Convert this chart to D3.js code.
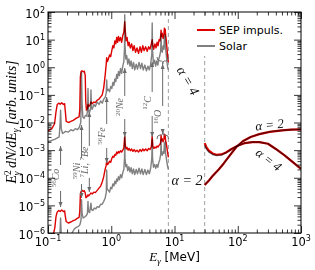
<!DOCTYPE html>
<html>
<head>
<meta charset="utf-8">
<script src="https://cdn.jsdelivr.net/npm/d3@7"></script>
<style>
  body { margin: 0; background: #fff; }
  svg { display: block; }
</style>
</head>
<body>
<svg id="chart" width="315" height="270"></svg>
<script>
// ---- data: [E_gamma (MeV), E^2 dN/dE (arb. units)] ----
// nuclear de-excitation lines, alpha = 4 normalisation (upper group)
const sepA4 = [
  [0.1, 5e-3], [0.115, 6e-3], [0.127, 9e-3], [0.134, 2.5e-2], [0.14, 4.5e-2], [0.148, 5e-2],
  [0.156, 4.6e-2], [0.165, 5.2e-2], [0.175, 4.5e-2], [0.183, 4.8e-2], [0.188, 2.5e-2], [0.194, 1.1e-2],
  [0.21, 1e-2], [0.23, 1.1e-2], [0.25, 1.2e-2], [0.27, 1.35e-2], [0.29, 1.5e-2], [0.31, 1.6e-2],
  [0.318, 3e-2], [0.325, 0.45], [0.333, 0.7], [0.345, 0.75], [0.36, 0.68], [0.375, 0.72], [0.388, 0.5],
  [0.395, 0.06], [0.405, 2.8e-2], [0.42, 3.2e-2], [0.429, 4.5e-2], [0.44, 3.8e-2], [0.46, 4.2e-2],
  [0.478, 5.5e-2], [0.5, 4.8e-2], [0.53, 5.5e-2], [0.56, 5.2e-2], [0.6, 6.5e-2], [0.64, 7e-2],
  [0.68, 8.5e-2], [0.72, 0.1], [0.76, 0.18], [0.8, 0.5], [0.83, 1.2], [0.847, 2.2], [0.87, 1.6],
  [0.9, 2.0], [0.94, 2.8], [0.98, 2.4], [1.02, 4], [1.06, 6], [1.1, 5], [1.14, 9], [1.18, 7],
  [1.22, 12], [1.26, 8], [1.3, 13], [1.35, 9], [1.4, 12], [1.46, 8], [1.52, 14], [1.58, 18],
  [1.634, 45], [1.67, 20], [1.72, 9], [1.78, 12], [1.85, 6], [1.92, 8], [2.0, 5], [2.1, 7], [2.2, 4],
  [2.3, 6], [2.42, 3.5], [2.55, 5], [2.7, 3.2], [2.85, 5.5], [3.0, 3.5], [3.15, 6], [3.3, 4],
  [3.5, 5.5], [3.7, 3.8], [3.9, 5.5], [4.1, 4.5], [4.3, 7], [4.44, 10], [4.55, 6], [4.7, 4.5],
  [4.9, 7], [5.1, 5], [5.3, 8], [5.5, 6], [5.7, 10], [5.9, 9], [6.05, 14], [6.13, 22], [6.25, 13],
  [6.4, 17], [6.6, 11], [6.8, 15], [6.92, 26], [7.02, 16], [7.12, 24], [7.25, 14], [7.4, 10],
  [7.6, 5], [7.8, 2.5], [8.0, 1.5]
];
const solarA4 = [
  [0.1, 2e-3], [0.13, 2.5e-3], [0.15, 3e-3], [0.155, 8e-3], [0.158, 2.8e-2], [0.162, 6e-3],
  [0.17, 4e-3], [0.19, 4.8e-3], [0.21, 4.5e-3], [0.23, 5.5e-3], [0.25, 5e-3], [0.27, 6e-3],
  [0.29, 5.5e-3], [0.31, 6.5e-3], [0.33, 1e-2], [0.339, 0.65], [0.346, 0.05], [0.355, 1.6e-2],
  [0.37, 1.4e-2], [0.39, 1.8e-2], [0.41, 1.7e-2], [0.423, 3e-2], [0.429, 0.17], [0.436, 3e-2],
  [0.45, 2.2e-2], [0.47, 3e-2], [0.478, 0.15], [0.486, 3.5e-2], [0.5, 3e-2], [0.53, 4.5e-2],
  [0.56, 3.8e-2], [0.6, 5.5e-2], [0.64, 4.5e-2], [0.68, 6e-2], [0.72, 5e-2], [0.76, 7e-2],
  [0.8, 8e-2], [0.835, 0.12], [0.847, 0.35], [0.86, 0.14], [0.9, 0.16], [0.94, 0.13], [0.98, 0.2],
  [1.02, 0.17], [1.06, 0.28], [1.1, 0.22], [1.14, 0.38], [1.18, 0.3], [1.22, 0.55], [1.26, 0.4],
  [1.3, 0.7], [1.35, 0.5], [1.4, 0.9], [1.46, 0.6], [1.52, 1.1], [1.58, 1.6], [1.62, 5], [1.634, 80],
  [1.65, 6], [1.7, 2], [1.76, 2.6], [1.82, 1.3], [1.9, 2], [1.98, 1.1], [2.06, 1.7], [2.15, 0.9],
  [2.25, 1.5], [2.35, 0.8], [2.48, 1.3], [2.6, 0.85], [2.75, 1.5], [2.9, 0.9], [3.05, 1.4],
  [3.2, 0.8], [3.4, 1.2], [3.6, 0.75], [3.8, 1.1], [4.0, 0.8], [4.2, 1.3], [4.38, 3], [4.44, 40],
  [4.5, 4], [4.65, 1.3], [4.85, 1.8], [5.05, 1.1], [5.25, 1.7], [5.45, 1.2], [5.65, 2], [5.85, 2.6],
  [6.05, 4], [6.13, 16], [6.2, 5], [6.4, 3.5], [6.6, 6], [6.8, 4.5], [6.92, 13], [7.0, 6],
  [7.12, 15], [7.2, 5], [7.4, 3], [7.6, 1.5], [7.8, 1], [8.0, 0.8]
];
// alpha = 2 normalisation (lower group)
const sepA2 = [
  [0.12, 8e-7], [0.128, 1.5e-6], [0.134, 4e-6], [0.14, 5.8e-6], [0.148, 6.5e-6], [0.156, 6e-6],
  [0.165, 6.8e-6], [0.175, 6e-6], [0.183, 6.3e-6], [0.188, 4e-6], [0.194, 2.6e-6], [0.21, 2.3e-6],
  [0.23, 2.5e-6], [0.25, 2.8e-6], [0.27, 3e-6], [0.29, 3.4e-6], [0.31, 3.7e-6], [0.318, 6e-6],
  [0.325, 2.5e-5], [0.333, 3.2e-5], [0.345, 3.5e-5], [0.36, 3.2e-5], [0.375, 3.4e-5], [0.388, 2.8e-5],
  [0.398, 1.9e-5], [0.41, 2e-5], [0.429, 2.4e-5], [0.44, 2.2e-5], [0.46, 2.5e-5], [0.478, 2.8e-5],
  [0.5, 2.6e-5], [0.53, 3e-5], [0.56, 2.9e-5], [0.6, 3.5e-5], [0.64, 4.2e-5], [0.68, 5e-5],
  [0.72, 7e-5], [0.76, 1.1e-4], [0.8, 2e-4], [0.83, 2.8e-4], [0.847, 4e-4], [0.87, 3e-4],
  [0.9, 3.2e-4], [0.94, 4e-4], [0.98, 3.6e-4], [1.02, 5e-4], [1.06, 6e-4], [1.1, 5.5e-4],
  [1.14, 7e-4], [1.18, 6.5e-4], [1.22, 8.5e-4], [1.26, 7.5e-4], [1.3, 9e-4], [1.35, 8e-4],
  [1.4, 9.5e-4], [1.46, 8.5e-4], [1.52, 1e-3], [1.58, 1.2e-3], [1.634, 3.2e-3], [1.67, 1.5e-3],
  [1.72, 1.1e-3], [1.78, 1.25e-3], [1.85, 1e-3], [1.92, 1.15e-3], [2.0, 9.5e-4], [2.1, 1.1e-3],
  [2.2, 9e-4], [2.3, 1.05e-3], [2.42, 8.8e-4], [2.55, 1e-3], [2.7, 8.5e-4], [2.85, 1.05e-3],
  [3.0, 9e-4], [3.15, 1.1e-3], [3.3, 9.5e-4], [3.5, 1.1e-3], [3.7, 9.5e-4], [3.9, 1.15e-3],
  [4.1, 1.05e-3], [4.3, 1.3e-3], [4.44, 3.2e-3], [4.55, 1.4e-3], [4.7, 1.15e-3], [4.9, 1.3e-3],
  [5.1, 1.2e-3], [5.3, 1.4e-3], [5.5, 1.3e-3], [5.7, 1.5e-3], [5.9, 1.6e-3], [6.05, 2e-3],
  [6.13, 3.5e-3], [6.25, 2.2e-3], [6.4, 2.6e-3], [6.6, 2e-3], [6.8, 2.5e-3], [6.92, 3.8e-3],
  [7.02, 2.6e-3], [7.12, 3.5e-3], [7.25, 2.2e-3], [7.4, 1.8e-3], [7.6, 1.2e-3], [7.8, 8e-4],
  [8.0, 5.5e-4]
];
const solarA2 = [
  [0.152, 5e-7], [0.156, 1.5e-6], [0.158, 3.5e-6], [0.161, 1.2e-6], [0.166, 5e-7], [0.22, 6e-7],
  [0.24, 1e-6], [0.26, 1.4e-6], [0.28, 1.6e-6], [0.3, 1.7e-6], [0.32, 2e-6], [0.333, 3e-6],
  [0.339, 1.6e-5], [0.346, 5e-6], [0.36, 3.5e-6], [0.38, 3.8e-6], [0.4, 4.2e-6], [0.42, 5e-6],
  [0.429, 1.4e-5], [0.436, 6e-6], [0.455, 5.5e-6], [0.478, 1.2e-5], [0.488, 7e-6], [0.51, 6.5e-6],
  [0.54, 8e-6], [0.57, 7.5e-6], [0.6, 9e-6], [0.64, 8.5e-6], [0.68, 1.1e-5], [0.72, 1.1e-5],
  [0.76, 1.4e-5], [0.8, 1.8e-5], [0.835, 3e-5], [0.847, 1.9e-4], [0.86, 4e-5], [0.9, 3.5e-5],
  [0.94, 3e-5], [0.98, 4.5e-5], [1.02, 4e-5], [1.06, 6e-5], [1.1, 5e-5], [1.14, 7.5e-5],
  [1.18, 6e-5], [1.22, 9e-5], [1.26, 7.5e-5], [1.3, 1.1e-4], [1.35, 8.5e-5], [1.4, 1.3e-4],
  [1.46, 1e-4], [1.52, 1.5e-4], [1.58, 2e-4], [1.62, 5e-4], [1.634, 3e-3], [1.65, 5e-4],
  [1.7, 2.5e-4], [1.76, 3e-4], [1.82, 1.8e-4], [1.9, 2.5e-4], [1.98, 1.6e-4], [2.06, 2.3e-4],
  [2.15, 1.4e-4], [2.25, 2.1e-4], [2.35, 1.3e-4], [2.48, 2e-4], [2.6, 1.4e-4], [2.75, 2.2e-4],
  [2.9, 1.4e-4], [3.05, 2.1e-4], [3.2, 1.3e-4], [3.4, 2e-4], [3.6, 1.3e-4], [3.8, 1.9e-4],
  [4.0, 1.4e-4], [4.2, 2.2e-4], [4.38, 5e-4], [4.44, 2.5e-3], [4.5, 5e-4], [4.65, 2.4e-4],
  [4.85, 3e-4], [5.05, 2.2e-4], [5.25, 3e-4], [5.45, 2.4e-4], [5.65, 3.6e-4], [5.85, 4.5e-4],
  [6.05, 7e-4], [6.13, 2.5e-3], [6.2, 8e-4], [6.4, 6.5e-4], [6.6, 9e-4], [6.8, 7.5e-4],
  [6.92, 1.8e-3], [7.0, 9e-4], [7.12, 2e-3], [7.2, 8e-4], [7.4, 5.5e-4], [7.6, 3.5e-4],
  [7.8, 2.5e-4], [8.0, 2e-4]
];
// pion-decay continuum
const sepPionA4 = [
  [30, 1.8e-3], [32, 1.25e-3], [35, 9.5e-4], [40, 7.6e-4], [46, 6.8e-4], [55, 7e-4], [65, 8.2e-4],
  [80, 1.1e-3], [100, 1.45e-3], [130, 1.8e-3], [170, 1.95e-3], [220, 1.95e-3], [300, 1.7e-3],
  [400, 1.1e-3], [550, 6.5e-4], [750, 3.6e-4], [1000, 2.1e-4]
];
const solarPionA4 = [
  [30, 1.5e-3], [32, 1.1e-3], [35, 8.5e-4], [40, 7e-4], [46, 6.4e-4], [55, 6.7e-4], [65, 8e-4],
  [80, 1.1e-3], [100, 1.45e-3], [130, 1.8e-3], [170, 1.95e-3], [220, 1.95e-3], [300, 1.7e-3],
  [400, 1.1e-3], [550, 6.5e-4], [750, 3.6e-4], [1000, 2.1e-4]
];
const sepPionA2 = [
  [30, 5.5e-5], [35, 8e-5], [40, 1.15e-4], [50, 2e-4], [60, 3.3e-4], [75, 6.5e-4], [95, 1.3e-3],
  [120, 2.1e-3], [160, 3e-3], [220, 3.8e-3], [320, 4.6e-3], [500, 5.2e-3], [700, 5.5e-3], [1000, 5.6e-3]
];
const solarPionA2 = [
  [30, 5.5e-5], [35, 8e-5], [40, 1.15e-4], [50, 2e-4], [60, 3.3e-4], [75, 6.5e-4], [95, 1.3e-3],
  [120, 2.1e-3], [160, 3e-3], [220, 3.8e-3], [320, 4.6e-3], [500, 5.2e-3], [700, 5.5e-3], [1000, 5.6e-3]
];

const dashedE = [8, 30];
const xTickExp = [-1, 0, 1, 2, 3];
const yTickExp = [-6, -5, -4, -3, -2, -1, 0, 1, 2];
const legendNames = ['SEP impuls.', 'Solar'];
// line labels: superscript / symbol pieces alternate
const lineLabels = [['56', 'Co'], ['59', 'Ni'], ['7', 'Li, ', '7', 'Be'], ['56', 'Fe'], ['20', 'Ne'], ['12', 'C'], ['16', 'O']];
const lineE = [0.158, 0.339, 0.45, 0.847, 1.634, 4.438, 6.5];

// ---- drawing ----
const RED = '#dd0000', GRAY = '#808080', ANN = '#6a6a6a';
const MATH = "'Liberation Serif','DejaVu Serif',serif";
const SANS = "'DejaVu Sans',sans-serif";

const svg = d3.select('#chart');
svg.append('rect').attr('width', 315).attr('height', 270).attr('fill', '#fff');

const x = d3.scaleLog().domain([0.1, 1000]).range([48, 301]);
const y = d3.scaleLog().domain([1e-6, 1e2]).range([233, 12]);

const defs = svg.append('defs');
defs.append('clipPath').attr('id', 'plot')
  .append('rect').attr('x', 48).attr('y', 12).attr('width', 253).attr('height', 221);
defs.append('marker').attr('id', 'head')
  .attr('viewBox', '0 0 10 10').attr('refX', 10).attr('refY', 5)
  .attr('markerWidth', 5).attr('markerHeight', 5).attr('markerUnits', 'userSpaceOnUse')
  .attr('orient', 'auto')
  .append('path').attr('d', 'M0,1 L10,5 L0,9 z').attr('fill', ANN);

// dashed separators
svg.selectAll('.vline').data(dashedE).enter().append('line')
  .attr('x1', d => x(d)).attr('x2', d => x(d)).attr('y1', 12).attr('y2', 233)
  .attr('stroke', '#a0a0a0').attr('stroke-width', 1).attr('stroke-dasharray', '4,3');

// spectra
const line = d3.line().x(d => x(d[0])).y(d => y(d[1]));
const curves = [
  { d: sepA4, c: RED, w: 1.4 }, { d: solarA4, c: GRAY, w: 1.4 },
  { d: sepA2, c: RED, w: 1.4 }, { d: solarA2, c: GRAY, w: 1.4 },
  { d: sepPionA4, c: RED, w: 2.2 }, { d: solarPionA4, c: GRAY, w: 1.6 },
  { d: sepPionA2, c: RED, w: 2.2 }, { d: solarPionA2, c: GRAY, w: 1.6 }
];
const cg = svg.append('g').attr('clip-path', 'url(#plot)');
cg.selectAll('path').data(curves).enter().append('path')
  .attr('d', d => line(d.d)).attr('fill', 'none')
  .attr('stroke', d => d.c).attr('stroke-width', d => d.w)
  .attr('stroke-linejoin', 'round')
  .style('mix-blend-mode', 'multiply');

// line annotations
const annLayout = [
  { ty: 178, up: [165, 146], dn: [191, 207] },
  { ty: 171, up: [158, 125], dn: [184, 198] },
  { ty: 162, up: [146, 112], dn: [178, 192] },
  { ty: 136, up: [124, 97], dn: [148, 163] },
  { ty: 107, up: [96, 68], dn: [119, 137] },
  { ty: 103, up: [92, 62], dn: [116, 137] },
  { ty: 117, up: [106, 64], dn: [129, 134] }
];
const ann = svg.append('g');
lineE.forEach((e, i) => {
  const lx = x(e), L = annLayout[i];
  const t = ann.append('text')
    .attr('transform', `translate(${lx - 1.5},${L.ty}) rotate(-90)`)
    .attr('text-anchor', 'middle').attr('fill', ANN)
    .attr('font-family', MATH);
  lineLabels[i].forEach((p, k) => {
    const sup = k % 2 === 0;
    t.append('tspan').text(p)
      .attr('font-size', sup ? 7 : 10)
      .attr('font-style', sup ? 'normal' : 'italic')
      .attr('dy', sup ? -3.5 : 3.5);
  });
  [L.up, L.dn].forEach(a => {
    ann.append('line').attr('x1', lx).attr('x2', lx).attr('y1', a[0]).attr('y2', a[1])
      .attr('stroke', ANN).attr('stroke-width', 1).attr('marker-end', 'url(#head)');
  });
});
// braces for the 16O triplet
ann.append('path').attr('d', 'M157,57 q0,4 3,4 h1.5 q1.3,0 1.3,3 q0,-3 1.3,-3 h1.5 q3,0 3,-4')
  .attr('fill', 'none').attr('stroke', ANN).attr('stroke-width', 1);
ann.append('path').attr('d', 'M157,139 q0,-4 3,-4 h1.5 q1.3,0 1.3,-3 q0,3 1.3,3 h1.5 q3,0 3,4')
  .attr('fill', 'none').attr('stroke', ANN).attr('stroke-width', 1);

// alpha labels
const alphaLabels = [
  { t: 'α = 4', tr: 'translate(184,83) rotate(60)', s: 14 },
  { t: 'α = 2', tr: 'translate(187,185)', s: 14 },
  { t: 'α = 2', tr: 'translate(270,129) rotate(-6)', s: 13 },
  { t: 'α = 4', tr: 'translate(266,163) rotate(38)', s: 13 }
];
svg.selectAll('.alab').data(alphaLabels).enter().append('text')
  .attr('transform', d => d.tr).attr('text-anchor', 'middle')
  .attr('font-family', MATH).attr('font-style', 'italic').attr('font-size', d => d.s)
  .attr('fill', '#111').text(d => d.t);

// legend
const leg = svg.append('g');
leg.append('rect').attr('x', 193).attr('y', 19).attr('width', 104).attr('height', 37).attr('fill', '#fff');
legendNames.forEach((n, i) => {
  const ly = 30 + i * 16;
  leg.append('line').attr('x1', 197).attr('x2', 215).attr('y1', ly).attr('y2', ly)
    .attr('stroke', i === 0 ? RED : GRAY).attr('stroke-width', 2);
  leg.append('text').attr('x', 219).attr('y', ly + 4).attr('font-family', SANS)
    .attr('font-size', 11).attr('fill', '#000').text(n);
});

// axes: ticks inward on all four sides
const xMajor = xTickExp.map(k => Math.pow(10, k));
const yMajor = yTickExp.map(k => Math.pow(10, k));
const isPow = v => Math.abs(Math.log10(v) - Math.round(Math.log10(v))) < 1e-9;
const xMinor = x.ticks().filter(v => !isPow(v));
const yMinor = y.ticks().filter(v => !isPow(v));

function ticks(axis, vals, size, tr) {
  const g = svg.append('g').attr('transform', tr)
    .call(axis.tickValues(vals).tickSize(size).tickSizeOuter(0).tickFormat(''));
  g.select('.domain').remove();
  g.selectAll('line').attr('stroke', '#000').attr('stroke-width', 0.8);
}
ticks(d3.axisBottom(x), xMajor, -7, 'translate(0,233)');
ticks(d3.axisBottom(x), xMinor, -3.5, 'translate(0,233)');
ticks(d3.axisTop(x), xMajor, -7, 'translate(0,12)');
ticks(d3.axisTop(x), xMinor, -3.5, 'translate(0,12)');
ticks(d3.axisLeft(y), yMajor, -7, 'translate(48,0)');
ticks(d3.axisLeft(y), yMinor, -3.5, 'translate(48,0)');
ticks(d3.axisRight(y), yMajor, -7, 'translate(301,0)');
ticks(d3.axisRight(y), yMinor, -3.5, 'translate(301,0)');

svg.append('rect').attr('x', 48).attr('y', 12).attr('width', 253).attr('height', 221)
  .attr('fill', 'none').attr('stroke', '#000').attr('stroke-width', 1);

// tick labels
const fmtExp = k => (k < 0 ? '\u2212' + (-k) : String(k));
xTickExp.forEach(k => {
  const t = svg.append('text').attr('x', x(Math.pow(10, k))).attr('y', 246)
    .attr('text-anchor', 'middle').attr('font-family', SANS).attr('font-size', 11.5);
  t.append('tspan').text('10');
  t.append('tspan').text(fmtExp(k)).attr('font-size', 8).attr('dy', -5);
});
yTickExp.forEach(k => {
  const t = svg.append('text').attr('x', 45).attr('y', y(Math.pow(10, k)) + 5.5)
    .attr('text-anchor', 'end').attr('font-family', SANS).attr('font-size', 11.5);
  t.append('tspan').text('10');
  t.append('tspan').text(fmtExp(k)).attr('font-size', 8).attr('dy', -5);
});

// axis titles
const xt = svg.append('text').attr('x', 174.5).attr('y', 261).attr('text-anchor', 'middle').attr('font-size', 12);
xt.append('tspan').text('E').attr('font-family', MATH).attr('font-style', 'italic').attr('font-size', 13);
xt.append('tspan').text('γ').attr('font-family', MATH).attr('font-style', 'italic').attr('font-size', 9).attr('dy', 3);
xt.append('tspan').text(' [MeV]').attr('font-family', SANS).attr('dy', -3);

const yt = svg.append('text').attr('transform', 'translate(16,122) rotate(-90)')
  .attr('text-anchor', 'middle').attr('font-family', MATH).attr('font-style', 'italic').attr('font-size', 14);
yt.append('tspan').text('E');
yt.append('tspan').text('2').attr('font-size', 9.5).attr('font-style', 'normal').attr('dy', -5);
yt.append('tspan').text('γ').attr('font-size', 9.5).attr('dx', -5).attr('dy', 8.5);
yt.append('tspan').text(' dN/dE').attr('dy', -3.5);
yt.append('tspan').text('γ').attr('font-size', 9.5).attr('dy', 3);
yt.append('tspan').text(' [arb. units]').attr('dy', -3);
</script>
</body>
</html>
